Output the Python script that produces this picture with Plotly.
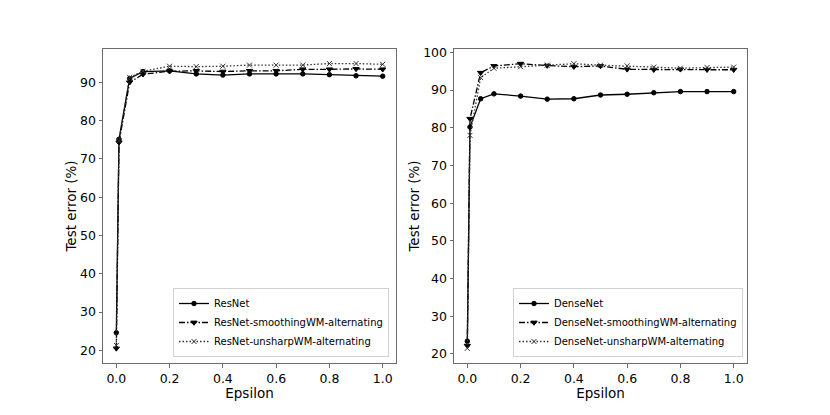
import plotly.graph_objects as go

eps = [0, 0.01, 0.05, 0.1, 0.2, 0.3, 0.4, 0.5, 0.6, 0.7, 0.8, 0.9, 1.0]

resnet = [24.6, 75.1, 91.0, 92.8, 93.0, 92.2, 91.9, 92.2, 92.2, 92.2, 92.0, 91.7, 91.6]
resnet_smooth = [20.5, 74.3, 90.0, 92.1, 92.9, 93.0, 92.8, 93.0, 93.0, 93.4, 93.4, 93.5, 93.4]
resnet_unsharp = [21.3, 74.8, 91.3, 92.9, 94.2, 94.1, 94.2, 94.5, 94.5, 94.5, 94.9, 94.9, 94.7]

densenet = [23.4, 80.2, 87.7, 89.0, 88.4, 87.6, 87.7, 88.7, 88.9, 89.3, 89.6, 89.6, 89.6]
dense_smooth = [22.2, 82.4, 94.6, 96.4, 97.0, 96.5, 96.2, 96.4, 95.5, 95.4, 95.5, 95.4, 95.4]
dense_unsharp = [21.5, 78.0, 93.3, 95.8, 96.2, 96.6, 97.0, 96.6, 96.4, 96.1, 95.8, 96.0, 96.1]

names_left = ["ResNet", "ResNet-smoothingWM-alternating", "ResNet-unsharpWM-alternating"]
names_right = ["DenseNet", "DenseNet-smoothingWM-alternating", "DenseNet-unsharpWM-alternating"]

FONT = "DejaVu Sans"
styles = [
    dict(dash="solid", symbol="circle", size=4.5, color="black"),
    dict(dash="6px,2px,1.5px,2px", symbol="triangle-down", size=5.5, color="black"),
    dict(dash="1.5px,2px", symbol="x-thin", size=5, color="#333333"),
]

fig = go.Figure()

def add(series, names, xa, ya, legend):
    for s, n, st in zip(series, names, styles):
        fig.add_trace(go.Scatter(
            x=eps, y=s, name=n, mode="lines+markers",
            xaxis=xa, yaxis=ya, legend=legend,
            line=dict(color=st["color"], width=1.3, dash=st["dash"]),
            marker=dict(symbol=st["symbol"], size=st["size"], color=st["color"],
                        line=dict(color=st["color"], width=1)),
        ))

add([resnet, resnet_smooth, resnet_unsharp], names_left, "x", "y", "legend")
add([densenet, dense_smooth, dense_unsharp], names_right, "x2", "y2", "legend2")

W, H = 830, 415
ydom = [1 - 363 / H, 1 - 49 / H]

axis_common = dict(
    showgrid=False, zeroline=False, showline=True, mirror=True,
    linecolor="#6b6b6b", linewidth=1, automargin=False,
    ticks="outside", ticklen=3.5, tickwidth=1, tickcolor="#6b6b6b",
    tickfont=dict(family=FONT, size=12.5, color="black"),
)

ticks_x = [0, 0.2, 0.4, 0.6, 0.8, 1.0]
ticks_x_text = ["0.0", "0.2", "0.4", "0.6", "0.8", "1.0"]

legend_common = dict(
    xanchor="right", yanchor="bottom",
    bgcolor="white", bordercolor="#d0d0d0", borderwidth=1,
    font=dict(family=FONT, size=10, color="black"),
    itemwidth=30, tracegroupgap=0, itemsizing="trace",
)

TITLE_FONT = dict(family=FONT, size=13.5)

fig.update_layout(
    width=W, height=H,
    margin=dict(l=0, r=0, t=0, b=0),
    paper_bgcolor="white", plot_bgcolor="white",
    font=dict(family=FONT, color="black"),
    xaxis=dict(domain=[103 / W, 396 / W], range=[-0.05, 1.05], anchor="y",
               tickvals=ticks_x, ticktext=ticks_x_text,
               title=dict(text="Epsilon", font=TITLE_FONT, standoff=0), **axis_common),
    yaxis=dict(domain=ydom, range=[16.7, 98.7], anchor="x",
               tickvals=[20, 30, 40, 50, 60, 70, 80, 90],
               title=dict(text="Test error (%)", font=TITLE_FONT, standoff=0), **axis_common),
    xaxis2=dict(domain=[454 / W, 747 / W], range=[-0.05, 1.05], anchor="y2",
                tickvals=ticks_x, ticktext=ticks_x_text,
                title=dict(text="Epsilon", font=TITLE_FONT, standoff=0), **axis_common),
    yaxis2=dict(domain=ydom, range=[17.6, 100.9], anchor="x2",
                tickvals=[20, 30, 40, 50, 60, 70, 80, 90, 100],
                title=dict(text="Test error (%)", font=TITLE_FONT, standoff=0), **axis_common),
    legend=dict(x=389 / W, y=1 - 357 / H, **legend_common),
    legend2=dict(x=743 / W, y=1 - 357 / H, **legend_common),
)

fig.write_html("out.html", config={"displayModeBar": False},
               post_script="document.body.style.margin='0';")
